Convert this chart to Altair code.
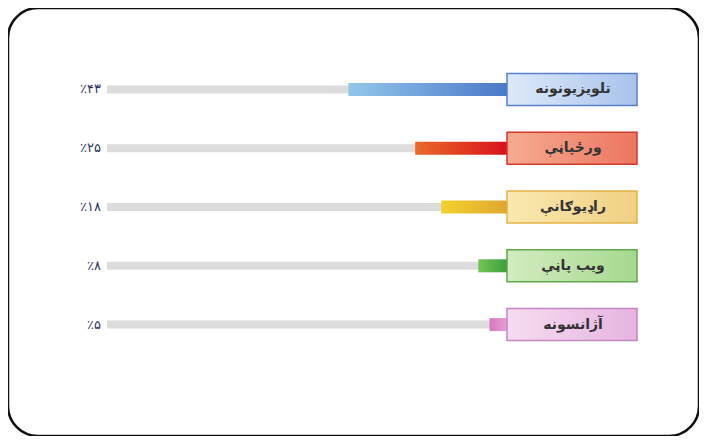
import altair as alt
import pandas as pd

categories = ["تلویزیونونه", "ورځپاڼې", "راډیوګانې", "ویب پاڼې", "آژانسونه"]
values = [43, 25, 18, 8, 5]
value_labels = ["٪۴۳", "٪۲۵", "٪۱۸", "٪۸", "٪۵"]

bar_grad = [("#93c6ea", "#4a78c8"), ("#ea6a2a", "#d8101c"), ("#f0d22e", "#e0a630"),
            ("#74c452", "#3a9e3e"), ("#d878c0", "#e9a0d6")]
box_fill = [("#dde9f8", "#a9c3ec"), ("#f5ab90", "#ec7660"), ("#f9e9b0", "#f0cf82"),
            ("#d2ecc0", "#a6d88e"), ("#f6dcf0", "#e6b4e0")]
box_stroke = ["#5a80c8", "#d23a2e", "#e2b24a", "#62a84a", "#c486c2"]

df = pd.DataFrame({"cat": categories, "value": values, "label": value_labels})

W, H = 691, 428
xscale = alt.Scale(domain=[0, 108], range=[500, 99])
yscale = alt.Scale(domain=categories, range=[52, 346], paddingInner=0, paddingOuter=0)
Y = alt.Y("cat:N", scale=yscale, axis=None, sort=categories)

def grad(c0, c1):
    return alt.Gradient(gradient="linear", x1=0, y1=0, x2=1, y2=0,
                        stops=[alt.GradientStop(color=c0, offset=0),
                               alt.GradientStop(color=c1, offset=1)])

base = alt.Chart(df)

track = base.mark_bar(height=8, color="#dcdcdc").encode(
    y=Y, x=alt.X(datum=0, scale=xscale, axis=None), x2=alt.X2(datum=108))

layers = [track]
for i, c in enumerate(categories):
    sub = base.transform_filter(alt.datum.cat == c)
    layers.append(sub.mark_bar(height=13, color=grad(*bar_grad[i])).encode(
        y=Y, x=alt.X("value:Q", scale=xscale, axis=None), x2=alt.X2(datum=0)))
    layers.append(sub.mark_bar(height=32, color=grad(*box_fill[i]), stroke=box_stroke[i],
                               strokeWidth=1.5).encode(
        y=Y, x=alt.value(499), x2=alt.value(629)))

cat_text = base.mark_text(font="DejaVu Sans", fontSize=14, fontWeight="bold", color="#333333",
                          align="center", baseline="middle").encode(
    y=Y, x=alt.value(565), text="cat:N")
val_text = base.mark_text(font="DejaVu Sans", fontSize=13, color="#2e3162", align="right",
                          baseline="middle", dx=-6).encode(
    y=Y, x=alt.X(datum=108, scale=xscale, axis=None), text="label:N")
layers += [cat_text, val_text]

chart = alt.layer(*layers).properties(
    width=W, height=H, autosize=alt.AutoSizeParams(type="none"), padding=0
).configure_view(stroke="#111111", strokeWidth=2.5, cornerRadius=30, fill="white")

chart.save("out.html", embed_options={"renderer": "svg", "actions": False})
